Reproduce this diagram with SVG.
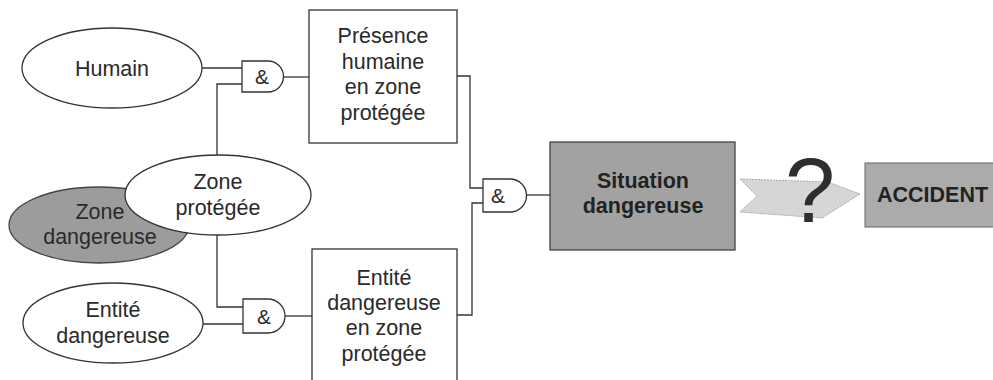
<svg xmlns="http://www.w3.org/2000/svg" width="993" height="380" viewBox="0 0 993 380">
<style>
.ln{fill:none;stroke:#333;stroke-width:1.3}
.sh{fill:#fff;stroke:#333;stroke-width:1.3}
.t{font-family:"Liberation Sans",Arial,sans-serif;font-size:21.5px;fill:#2a2a2a;text-anchor:middle}
.b{font-weight:bold;font-size:21.5px;fill:#222}
.g{font-size:21px}
</style>
<rect width="993" height="380" fill="#fff"/>
<g id="connectors">
<path class="ln" d="M202,68 H242"/>
<path class="ln" d="M217,155 V84 H242"/>
<path class="ln" d="M283,77 H309"/>
<path class="ln" d="M217,235 V307 H243"/>
<path class="ln" d="M203,324 H243"/>
<path class="ln" d="M285,316 H312"/>
<path class="ln" d="M457,76 H470 V188 H483"/>
<path class="ln" d="M457,315 H472 V203 H483"/>
<path class="ln" d="M527,195 H550"/>
</g>
<g id="humain">
<ellipse class="sh" cx="112" cy="68" rx="90" ry="40"/>
<text class="t" x="112" y="76">Humain</text>
</g>
<g id="zone-dangereuse">
<ellipse cx="99" cy="225" rx="90" ry="38" fill="#9c9c9c" stroke="#444" stroke-width="1.3"/>
<text class="t" x="100" y="219" fill="#1a1a1a">Zone</text>
<text class="t" x="100" y="244" fill="#1a1a1a">dangereuse</text>
</g>
<g id="zone-protegee">
<ellipse class="sh" cx="218" cy="195" rx="93" ry="40"/>
<text class="t" x="218" y="189">Zone</text>
<text class="t" x="218" y="215">protégée</text>
</g>
<g id="entite">
<ellipse class="sh" cx="113" cy="323" rx="90" ry="40"/>
<text class="t" x="113" y="317">Entité</text>
<text class="t" x="113" y="343">dangereuse</text>
</g>
<g id="gate1">
<path class="sh" d="M242,61 H268 A15.5,15.5 0 0 1 268,92 H242 Z"/>
<text class="t g" x="262" y="84">&amp;</text>
</g>
<g id="gate2">
<path class="sh" d="M243,299 H268 A17,17 0 0 1 268,333 H243 Z"/>
<text class="t g" x="264" y="324">&amp;</text>
</g>
<g id="gate3">
<path class="sh" d="M483,179 H510 A16.5,16.5 0 0 1 510,212 H483 Z"/>
<text class="t g" x="498" y="203">&amp;</text>
</g>
<g id="presence">
<rect class="sh" x="309" y="10" width="148" height="133"/>
<text class="t" x="383" y="43">Présence</text>
<text class="t" x="383" y="68.5">humaine</text>
<text class="t" x="383" y="94">en zone</text>
<text class="t" x="383" y="119.5">protégée</text>
</g>
<g id="entite-zone">
<rect class="sh" x="312" y="249" width="145" height="140"/>
<text class="t" x="384" y="285">Entité</text>
<text class="t" x="384" y="310">dangereuse</text>
<text class="t" x="384" y="335">en zone</text>
<text class="t" x="384" y="361">protégée</text>
</g>
<g id="situation">
<rect x="550" y="142" width="185" height="108" fill="#a2a2a2" stroke="#444" stroke-width="1.3"/>
<text class="t b" x="643" y="188">Situation</text>
<text class="t b" x="643" y="213">dangereuse</text>
</g>
<g id="arrow">
<path d="M740,179 L828,182 L860,194 L822,218 L740,212 L757,196 Z" fill="#d6d6d6" stroke="#aaa" stroke-width="1" stroke-dasharray="2,1"/>
<text x="810" y="222" font-family="Liberation Sans,Arial,sans-serif" font-size="90" fill="#2e2e2e" text-anchor="middle">?</text>
</g>
<g id="accident">
<rect x="865" y="163" width="135" height="64" fill="#ababab" stroke="#666" stroke-width="1"/>
<text class="t b" x="877" y="202" style="text-anchor:start">ACCIDENT</text>
</g>
</svg>
